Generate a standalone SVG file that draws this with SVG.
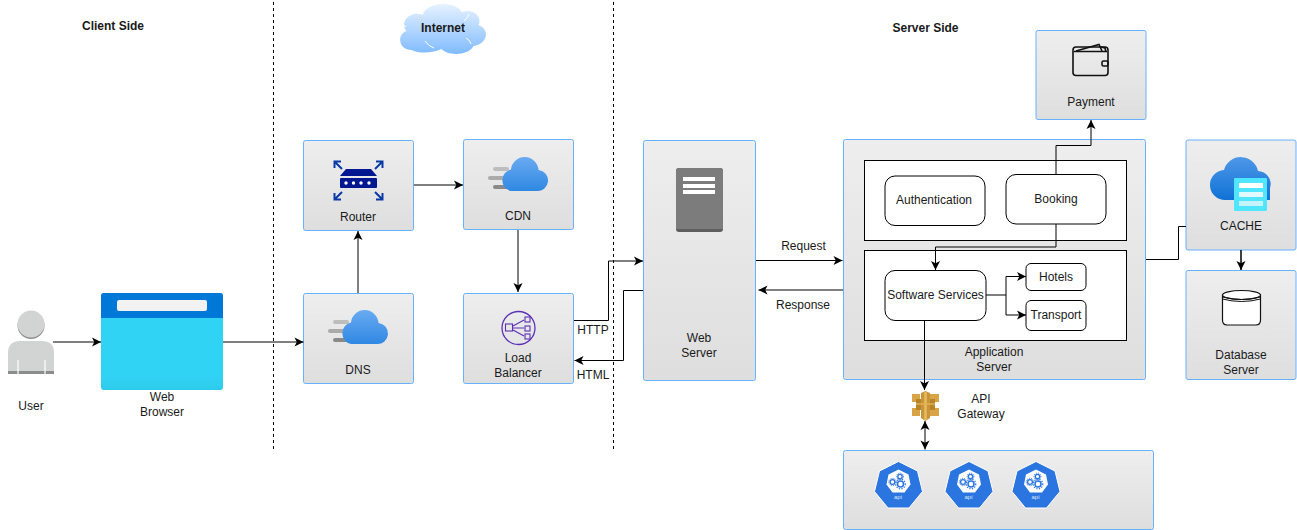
<svg xmlns="http://www.w3.org/2000/svg" width="1297" height="530" viewBox="0 0 1297 530">
<style>
text{font-family:"Liberation Sans",Arial,sans-serif;font-size:12px;fill:#1a1a1a;text-anchor:middle}
.b{font-weight:bold}
.box{fill:url(#g);stroke:#66b2ff;stroke-width:1}
.w{fill:#fff;stroke:#000;stroke-width:1}
.c{fill:none;stroke:#000;stroke-width:1}
.a{marker-end:url(#arr)}
.bi{marker-start:url(#arrs);marker-end:url(#arr)}
.d{fill:none;stroke:#000;stroke-width:1;stroke-dasharray:3 3}
</style>
<defs>
<linearGradient id="g" x1="0" y1="0" x2="0" y2="1"><stop offset="0" stop-color="#eeeeee"/><stop offset="1" stop-color="#dedede"/></linearGradient>
<linearGradient id="cl" x1="0" y1="0" x2="0" y2="1"><stop offset="0" stop-color="#e6f2ff"/><stop offset="1" stop-color="#80bbff"/></linearGradient>
<linearGradient id="bl" x1="0" y1="0" x2="0" y2="1"><stop offset="0" stop-color="#6aaaf2"/><stop offset="1" stop-color="#2f88e2"/></linearGradient>
<linearGradient id="bl2" x1="0" y1="0" x2="0" y2="1"><stop offset="0" stop-color="#4e97e8"/><stop offset="1" stop-color="#0f72d6"/></linearGradient>
<linearGradient id="sky" x1="0" y1="0" x2="0" y2="1"><stop offset="0" stop-color="#31d3f5"/><stop offset="0.85" stop-color="#31d3f5"/><stop offset="1" stop-color="#2dcbea"/></linearGradient>
<marker id="arr" viewBox="0 0 10 10" markerWidth="10" markerHeight="10" refX="9.500" refY="5" orient="auto" markerUnits="userSpaceOnUse"><path d="M0.500 0.500L9.500 5L0.500 9.500L2.800 5Z" fill="#000"/></marker>
<marker id="arrs" viewBox="0 0 10 10" markerWidth="10" markerHeight="10" refX="0.500" refY="5" orient="auto" markerUnits="userSpaceOnUse"><path d="M9.500 0.500L0.500 5L9.500 9.500L7.200 5Z" fill="#000"/></marker>
<g id="fastcloud">
<rect x="-7" y="10" width="16" height="4" rx="2" fill="#bdbdbd"/>
<rect x="-12" y="19" width="20" height="4" rx="2" fill="#aaaaaa"/>
<rect x="-7" y="28" width="16" height="4" rx="2" fill="#8a8a8a"/>
<path d="M11 34A11 11 0 0 1 11 12.500A13.800 13.800 0 0 1 38.500 13A10.500 10.500 0 0 1 36.500 34Z" fill="url(#bl)"/>
</g>
<g id="apiicon">
<path d="M24 0L43 9.500L48 30L34.500 46.500H13.500L0 30L5 9.500Z" fill="#2a75e0" stroke="#fff" stroke-width="1"/>
<path d="M24 8L34 13L36 23L30 31H18L12 23L14 13Z" fill="#fff"/>
<g fill="none" stroke="#2a75e0">
<circle cx="25.500" cy="15" r="2.200" stroke-width="1.300"/>
<circle cx="25.500" cy="15" r="3.400" stroke-width="1" stroke-dasharray="1 1"/>
<circle cx="18" cy="20.500" r="2.400" stroke-width="1.300"/>
<circle cx="18" cy="20.500" r="3.700" stroke-width="1" stroke-dasharray="1 1"/>
<circle cx="26" cy="22.500" r="3" stroke-width="1.500"/>
<circle cx="26" cy="22.500" r="4.800" stroke-width="1.200" stroke-dasharray="1.300 1.300"/>
</g>
<text x="23.500" y="37.500" style="font-size:6px;fill:#dbe8fb">api</text>
</g>
</defs>

<g id="separators">
<path class="d" d="M273.500 2V452"/>
<path class="d" d="M613.500 2V452"/>
</g>

<g id="client-side-label"><text class="b" x="113" y="30">Client Side</text></g>
<g id="server-side-label"><text class="b" x="925.500" y="32">Server Side</text></g>

<g id="internet">
<path d="M411 50C398 50 396 34 406 31C398 20 412 10 422 15C427 1 456 1 461 12C474 8 482 18 478 25C490 30 487 44 473 46C468 56 447 56 441 49C433 53 420 54 411 50Z" transform="translate(0.500 0)" fill="url(#cl)"/>
<path d="M401 23Q404 24 406 27M425 41Q428 46 434 48M469 14Q468 18 464 21M471 44Q470 40 466 38" fill="none" stroke="#fff" stroke-width="1"/>
<text class="b" x="443" y="32">Internet</text>
</g>

<g id="user">
<circle cx="31" cy="325.500" r="13.500" fill="#8f8f8f"/>
<circle cx="31" cy="324" r="13.500" fill="#d2d3d3"/>
<path d="M8 374V353Q8 341 20 341H42Q54 341 54 353V374Z" fill="#d2d3d3"/>
<rect x="8" y="371" width="46" height="3" fill="#8c8c8c"/>
<path d="M18 360V374M45 360V374" stroke="#fff" stroke-width="1.200"/>
<text x="31" y="410">User</text>
</g>

<g id="web-browser">
<rect x="101" y="293" width="122" height="97" rx="3" fill="url(#sky)"/>
<path d="M101 318V296a3 3 0 0 1 3-3H220a3 3 0 0 1 3 3V318Z" fill="#0078d7"/>
<rect x="117" y="300" width="90" height="11" rx="2" fill="#f2f2f2"/>
<text x="162" y="401">Web</text><text x="162" y="416">Browser</text>
</g>

<g id="router">
<rect class="box" x="303.500" y="140.500" width="110" height="90" rx="2"/>
<g fill="#00188f">
<path d="M340 176L346 169H371L377 176Z"/>
<rect x="340" y="178" width="37" height="10" rx="1"/>
</g>
<g fill="#fff"><circle cx="346" cy="183" r="1.700"/><circle cx="353.500" cy="183" r="1.700"/><circle cx="361" cy="183" r="1.700"/><circle cx="369" cy="183" r="1.700"/></g>
<g fill="none" stroke="#0a3aa8" stroke-width="2">
<path d="M342 169L334.500 161.500M334.500 168V161.500H341"/>
<path d="M375 169L382.500 161.500M376 161.500H382.500V168"/>
<path d="M342 192L334.500 199.500M334.500 193V199.500H341"/>
<path d="M375 192L382.500 199.500M376 199.500H382.500V193"/>
</g>
<text x="358" y="221">Router</text>
</g>

<g id="cdn">
<rect class="box" x="463.500" y="139.500" width="110" height="90" rx="2"/>
<use href="#fastcloud" x="500" y="157"/>
<text x="518" y="220">CDN</text>
</g>

<g id="dns">
<rect class="box" x="303.500" y="293.500" width="110" height="90" rx="2"/>
<use href="#fastcloud" x="340" y="310"/>
<text x="358" y="374">DNS</text>
</g>

<g id="load-balancer">
<rect class="box" x="463.500" y="293.500" width="110" height="90" rx="2"/>
<circle cx="518.500" cy="328" r="16.500" fill="none" stroke="#5a30b5" stroke-width="1.300"/>
<g fill="none" stroke="#5a30b5" stroke-width="1.100">
<rect x="505.500" y="324" width="7" height="7"/>
<rect x="525" y="317" width="5" height="5"/><rect x="525" y="326" width="5" height="5"/><rect x="525" y="334" width="5" height="5"/>
<path d="M513 328H524M513 326L524 320M513 330L524 336"/>
</g>
<text x="518" y="362">Load</text><text x="518" y="377">Balancer</text>
</g>

<g id="http-label"><text x="593" y="334">HTTP</text></g>
<g id="html-label"><text x="593" y="379">HTML</text></g>

<g id="web-server">
<rect class="box" x="643.500" y="140.500" width="112" height="240" rx="2"/>
<rect x="676" y="168" width="47" height="64" rx="3" fill="#5e5e5e"/>
<path d="M676 171a3 3 0 0 1 3-3H720a3 3 0 0 1 3 3V229H676Z" fill="#7c7c7c"/>
<rect x="683" y="177" width="32" height="4" fill="#fff"/><rect x="683" y="184" width="32" height="4" fill="#fff"/><rect x="683" y="190" width="32" height="4" fill="#fff"/>
<text x="699" y="342">Web</text><text x="699" y="357">Server</text>
</g>

<g id="request-label"><text x="803.500" y="250">Request</text></g>
<g id="response-label"><text x="803" y="309">Response</text></g>

<g id="application-server">
<rect class="box" x="843.500" y="139.500" width="302" height="240" rx="2"/>
<rect class="w" x="864.500" y="160.500" width="262" height="80"/>
<rect class="w" x="864.500" y="250.500" width="262" height="90"/>
<text x="994" y="356">Application</text><text x="994" y="371">Server</text>
</g>
<g id="authentication"><rect class="w" x="885" y="176" width="100" height="49.500" rx="10"/><text x="934" y="204">Authentication</text></g>
<g id="booking"><rect class="w" x="1006" y="174.500" width="100" height="49.500" rx="10"/><text x="1056" y="203">Booking</text></g>
<g id="software-services"><rect class="w" x="885" y="270.500" width="101" height="50" rx="10"/><text x="935.500" y="299">Software Services</text></g>
<g id="hotels"><rect class="w" x="1026" y="263.500" width="60" height="27" rx="5"/><text x="1056" y="281">Hotels</text></g>
<g id="transport"><rect class="w" x="1026" y="300.500" width="60" height="30" rx="5"/><text x="1056" y="319">Transport</text></g>

<g id="payment">
<rect class="box" x="1036" y="30.500" width="110" height="89" rx="2"/>
<g fill="none" stroke="#111" stroke-width="1.600">
<path d="M1076 51L1099 44.500L1102 51"/>
<path d="M1101 47L1105 48L1106 52"/>
<rect x="1073" y="47" width="35" height="28.500" rx="3"/>
<path d="M1074 51.500H1107"/>
<rect x="1102" y="61" width="6" height="5" rx="1.500"/>
</g>
<text x="1091" y="106">Payment</text>
</g>

<g id="cache">
<rect class="box" x="1186" y="140" width="110" height="110" rx="2"/>
<path d="M1226 200A15 15 0 0 1 1224 170A17.500 17.500 0 0 1 1258 171A13 13 0 0 1 1270 188V200Z" fill="url(#bl2)"/>
<rect x="1234" y="178" width="33" height="33" rx="1" fill="#50e6ff"/>
<rect x="1239" y="183" width="24" height="5" fill="#fff"/><rect x="1239" y="192" width="24" height="5" fill="#dff9ff"/><rect x="1239" y="201" width="24" height="5" fill="#c3f4ff"/>
<text x="1241" y="230">CACHE</text>
</g>

<g id="database-server">
<rect class="box" x="1186" y="270.500" width="110" height="109" rx="2"/>
<path d="M1222.500 295V320Q1222.500 325 1227 325H1256Q1260.500 325 1260.500 320V295Z" fill="#fff" stroke="#111" stroke-width="1.200"/>
<ellipse cx="1241.500" cy="295" rx="19" ry="4.500" fill="#fff" stroke="#111" stroke-width="1.200"/>
<path d="M1222.500 297Q1241.500 302 1260.500 297M1222.500 299Q1241.500 304 1260.500 299" fill="none" stroke="#111" stroke-width="1"/>
<text x="1241" y="359">Database</text><text x="1241" y="374">Server</text>
</g>

<g id="api-gateway">
<path d="M912 394H920V402H912ZM930 394H939V402H930ZM912 408H920V416H912ZM930 408H939V416H930Z" fill="#d8a445"/>
<rect x="916" y="399" width="19" height="11" fill="#b8842a"/>
<path d="M921 393L925.500 391L930 393V418L925.500 421L921 418Z" fill="#c9953a"/>
<path d="M925.500 392V420" stroke="#e8bb60" stroke-width="2.500"/>
<path d="M916 404H935" stroke="#e3b055" stroke-width="1.500"/>
<text x="981" y="403">API</text><text x="981" y="418">Gateway</text>
</g>

<g id="api-services">
<rect class="box" x="843.500" y="450.500" width="310" height="79" rx="2"/>
<use href="#apiicon" x="874.500" y="461.500"/>
<use href="#apiicon" x="945" y="461.500"/>
<use href="#apiicon" x="1012" y="461.500"/>
</g>

<g id="connectors">
<path class="c a" d="M53 342H101"/>
<path class="c a" d="M223 342H303.500"/>
<path class="c a" d="M358 293V231"/>
<path class="c a" d="M414 185H463"/>
<path class="c a" d="M518 230V292"/>
<path class="c a" d="M574 320.500H608.500V261H643"/>
<path class="c a" d="M643 290.500H623.500V360.500H574.500"/>
<path class="c a" d="M756 260.500H842.500"/>
<path class="c a" d="M843 290H758.500"/>
<path class="c a" d="M1056 174V145.500H1091V120"/>
<path class="c a" d="M1056 224V247H935.500V270"/>
<path class="c a" d="M986 295H1006V276.500H1026"/>
<path class="c a" d="M1006 295V315H1026"/>
<path class="c a" d="M924.500 320V390"/>
<path class="c bi" d="M925 421V449.500"/>
<path class="c" d="M1146 259.500H1178.500V226.500H1186"/>
<path class="c a" d="M1241 250V270" style="stroke-width:1.500"/>
</g>
</svg>
